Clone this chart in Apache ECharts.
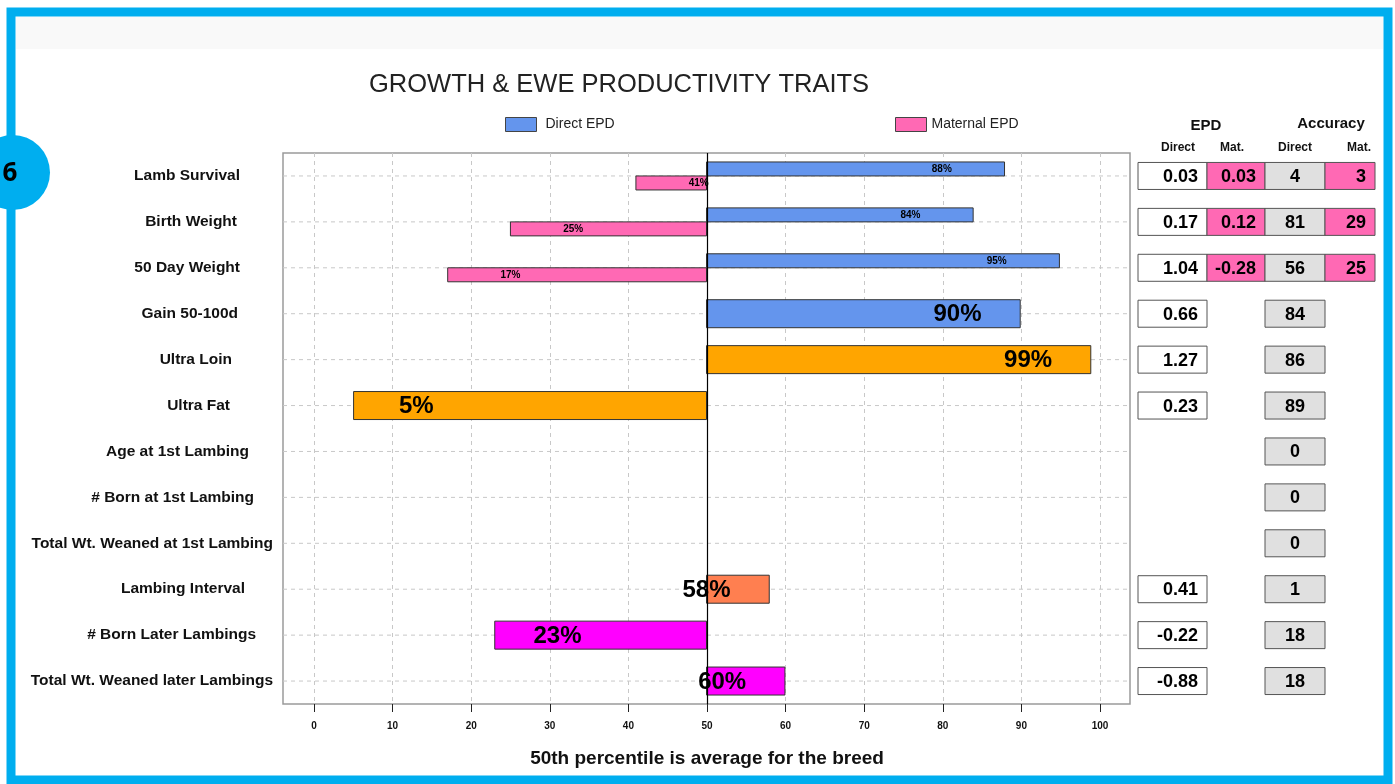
<!DOCTYPE html>
<html><head><meta charset="utf-8">
<script src="https://cdn.jsdelivr.net/npm/echarts@6/dist/echarts.min.js"></script>
<style>html,body{margin:0;padding:0;background:#fff}#c{width:1395px;height:784px}</style>
</head><body><div id="c"></div>
<script>
// ---------------- data ----------------
const traits = ['Lamb Survival','Birth Weight','50 Day Weight','Gain 50-100d','Ultra Loin','Ultra Fat',
  'Age at 1st Lambing','# Born at 1st Lambing','Total Wt. Weaned at 1st Lambing','Lambing Interval',
  '# Born Later Lambings','Total Wt. Weaned later Lambings'];
const directPercentile   = [88, 84, 95, 90, 99, 5, null, null, null, 58, 23, 60];
const maternalPercentile = [41, 25, 17, null, null, null, null, null, null, null, null, null];
const epdDirect   = [0.03, 0.17, 1.04, 0.66, 1.27, 0.23, null, null, null, 0.41, -0.22, -0.88];
const epdMaternal = [0.03, 0.12, -0.28, null, null, null, null, null, null, null, null, null];
const accDirect   = [4, 81, 56, 84, 86, 89, 0, 0, 0, 1, 18, 18];
const accMaternal = [3, 29, 25, null, null, null, null, null, null, null, null, null];
const percentileMin = 0, percentileMax = 100, percentileStep = 10;

// ---------------- styles ----------------
const FONT = 'Liberation Sans';
const BLUE = '#6495ED', PINK = '#FF69B4', ORANGE = '#FFA500', CORAL = '#FF7F50', MAGENTA = '#FF00FF';
const rowFill = [BLUE, BLUE, BLUE, BLUE, ORANGE, ORANGE, null, null, null, CORAL, MAGENTA, MAGENTA];
const labelShift = 8; // label sits this many percentile units inside the bar end
const colEdges = [0, 69, 127, 187, 237];
const colFill = ['#FFFFFF', PINK, '#E0E0E0', PINK];
const colAlign = ['right', 'right', 'center', 'right'];
const Y_FS = 15.5;

// y-axis label placement (mimic original anchor)
const ctx = document.createElement('canvas').getContext('2d');
ctx.font = 'bold ' + Y_FS + 'px "' + FONT + '"';
const yRich = {};
traits.forEach((t, i) => {
  const w = ctx.measureText(t).width;
  const pad = Math.max(0, Math.round(59 - 0.24 * w));
  yRich['t' + i] = {fontSize: Y_FS, fontWeight: 'bold', fontFamily: FONT, color: '#111', padding: [0, pad, 0, 0]};
});

function barRender(kind) {
  return function (params, api) {
    const v = api.value(0), row = api.value(1);
    const hasMat = maternalPercentile[row] != null;
    const p50 = api.coord([50, row]);
    const pv = api.coord([v, row]);
    let h, y0, fs;
    if (kind === 'direct') {
      if (hasMat) { h = 14; y0 = p50[1] - 14; fs = 10; }
      else { h = 28; y0 = p50[1] - 14; fs = 24; }
    } else { h = 14; y0 = p50[1]; fs = 10; }
    const x0 = Math.min(p50[0], pv[0]);
    const w = Math.abs(pv[0] - p50[0]);
    const lx = api.coord([v > 50 ? v - labelShift : v + labelShift, row])[0];
    const fill = kind === 'direct' ? rowFill[row] : PINK;
    return {
      type: 'group',
      children: [
        {type: 'rect', shape: {x: x0, y: y0, width: w, height: h},
          style: {fill: fill, stroke: '#333', lineWidth: 1}},
        {type: 'text', z2: 10, style: {text: v + '%', x: lx, y: y0 + h / 2 + (fs > 12 ? 1 : 0),
          align: 'center', verticalAlign: 'middle', textAlign: 'center', textVerticalAlign: 'middle',
          font: 'bold ' + fs + 'px "' + FONT + '"', fill: '#000'}}
      ]
    };
  };
}

function tableSeries(col, values, fmt) {
  const data = [];
  values.forEach((v, i) => { if (v != null) data.push([col, i, v]); });
  return {
    type: 'custom', xAxisIndex: 2, yAxisIndex: 2, silent: true, clip: false,
    encode: {x: 0, y: 1},
    data: data,
    renderItem: function (params, api) {
      const c = api.value(0), row = api.value(1), val = api.value(2);
      const a = api.coord([colEdges[c], row]);
      const b = api.coord([colEdges[c + 1], row]);
      const cy = a[1];
      let tx, al = colAlign[c];
      if (al === 'center') tx = (a[0] + b[0]) / 2; else tx = b[0] - 9;
      return {
        type: 'group',
        children: [
          {type: 'rect', shape: {x: a[0], y: cy - 13.5, width: b[0] - a[0], height: 27},
            style: {fill: colFill[c], stroke: '#555', lineWidth: 1}},
          {type: 'text', style: {text: fmt(val), x: tx, y: cy + 1, align: al, textAlign: al,
            verticalAlign: 'middle', textVerticalAlign: 'middle',
            font: 'bold 18px "' + FONT + '"', fill: '#000'}}
        ]
      };
    }
  };
}
const fmtEpd = v => Number(v).toFixed(2);
const fmtAcc = v => String(v);

const GTOP = 153, GBOTTOM = 80;
const chart = echarts.init(document.getElementById('c'), null, {renderer: 'canvas'});
chart.setOption({
  animation: false,
  backgroundColor: '#fff',
  title: {
    text: 'GROWTH & EWE PRODUCTIVITY TRAITS', left: 369, top: 72, padding: 0,
    textStyle: {fontFamily: FONT, fontSize: 25.5, fontWeight: 'normal', color: '#222'}
  },
  legend: [
    {data: ['Direct EPD'], left: 505, top: 117, padding: 0, icon: 'rect', itemWidth: 31, itemHeight: 14,
      selectedMode: false, itemStyle: {borderColor: '#444', borderWidth: 1},
      textStyle: {fontFamily: FONT, fontSize: 14, color: '#222', padding: [0, 0, 0, 4]}},
    {data: ['Maternal EPD'], left: 895, top: 117, padding: 0, icon: 'rect', itemWidth: 31, itemHeight: 14,
      selectedMode: false, itemStyle: {borderColor: '#444', borderWidth: 1},
      textStyle: {fontFamily: FONT, fontSize: 14, color: '#222'}}
  ],
  grid: [
    {left: 283, right: 1395 - 1130, top: GTOP, bottom: GBOTTOM, show: true, borderColor: '#9a9a9a', borderWidth: 1.5},
    {left: 314, right: 1395 - 1100, top: GTOP, bottom: GBOTTOM},
    {left: 1138, right: 1395 - 1375, top: GTOP, bottom: GBOTTOM}
  ],
  xAxis: [
    {gridIndex: 0, type: 'value', min: percentileMin - 4, max: percentileMax + 4, show: false},
    {gridIndex: 1, type: 'value', min: percentileMin, max: percentileMax, interval: percentileStep,
      axisLine: {show: false},
      axisTick: {show: true, length: 8, lineStyle: {color: '#222', width: 1}},
      axisLabel: {margin: 17, fontFamily: FONT, fontSize: 10, fontWeight: 'bold', color: '#111'},
      splitLine: {show: true, lineStyle: {color: '#c8c8c8', type: [4, 4], width: 1}},
      name: '50th percentile is average for the breed', nameLocation: 'middle', nameGap: 45,
      nameTextStyle: {fontFamily: FONT, fontSize: 19, fontWeight: 'bold', color: '#111'}},
    {gridIndex: 2, type: 'value', min: 0, max: 237, show: false}
  ],
  yAxis: [
    {gridIndex: 0, type: 'category', data: traits, inverse: true,
      axisLine: {show: false}, axisTick: {show: false}, splitLine: {show: false},
      axisLabel: {align: 'right', margin: 9, formatter: (v, i) => '{t' + i + '|' + v + '}', rich: yRich}},
    {gridIndex: 1, type: 'category', data: traits, inverse: true, show: false},
    {gridIndex: 2, type: 'category', data: traits, inverse: true, show: false}
  ],
  graphic: [
    {type: 'rect', z: -10, shape: {x: 16, y: 17, width: 1367, height: 32}, style: {fill: '#f9f9f9'}},
    {type: 'rect', z: 100, shape: {x: 11, y: 12, width: 1377, height: 768}, style: {fill: 'transparent', stroke: '#00AEEF', lineWidth: 9}},
    {type: 'circle', z: 101, shape: {cx: 12.5, cy: 172.5, r: 37.5}, style: {fill: '#00AEEF'}},
    {type: 'text', z: 102, style: {text: '6', x: 10, y: 174, textAlign: 'center', textVerticalAlign: 'middle',
      font: 'bold 26px "Open Sans"', fill: '#000'}},
    {type: 'text', style: {text: 'EPD', x: 1206, y: 126, textAlign: 'center', textVerticalAlign: 'middle', font: 'bold 15px "' + FONT + '"', fill: '#111'}},
    {type: 'text', style: {text: 'Accuracy', x: 1331, y: 124, textAlign: 'center', textVerticalAlign: 'middle', font: 'bold 15px "' + FONT + '"', fill: '#111'}},
    {type: 'text', style: {text: 'Direct', x: 1178, y: 148, textAlign: 'center', textVerticalAlign: 'middle', font: 'bold 12px "' + FONT + '"', fill: '#111'}},
    {type: 'text', style: {text: 'Mat.', x: 1232, y: 148, textAlign: 'center', textVerticalAlign: 'middle', font: 'bold 12px "' + FONT + '"', fill: '#111'}},
    {type: 'text', style: {text: 'Direct', x: 1295, y: 148, textAlign: 'center', textVerticalAlign: 'middle', font: 'bold 12px "' + FONT + '"', fill: '#111'}},
    {type: 'text', style: {text: 'Mat.', x: 1359, y: 148, textAlign: 'center', textVerticalAlign: 'middle', font: 'bold 12px "' + FONT + '"', fill: '#111'}}
  ],
  series: [
    // horizontal dashed guide lines at each trait
    {type: 'custom', name: 'guides', xAxisIndex: 0, yAxisIndex: 0, silent: true, z: 1,
      data: traits.map((t, i) => [50, i]), encode: {x: 0, y: 1},
      renderItem: function (params, api) {
        const cs = params.coordSys; const y = api.coord([50, api.value(1)])[1];
        return {type: 'line', shape: {x1: cs.x, y1: y, x2: cs.x + cs.width, y2: y},
          style: {stroke: '#c8c8c8', lineWidth: 1, lineDash: [4, 4]}};
      }},
    {type: 'custom', name: 'Direct EPD', xAxisIndex: 0, yAxisIndex: 0, z: 3, clip: false,
      itemStyle: {color: BLUE, borderColor: '#444', borderWidth: 1},
      encode: {x: 0, y: 1},
      data: directPercentile.map((v, i) => v == null ? null : [v, i]).filter(d => d),
      renderItem: barRender('direct')},
    {type: 'custom', name: 'Maternal EPD', xAxisIndex: 0, yAxisIndex: 0, z: 3, clip: false,
      itemStyle: {color: PINK, borderColor: '#444', borderWidth: 1},
      encode: {x: 0, y: 1},
      data: maternalPercentile.map((v, i) => v == null ? null : [v, i]).filter(d => d),
      renderItem: barRender('maternal')},
    // breed average line at the 50th percentile
    {type: 'custom', name: 'average', xAxisIndex: 0, yAxisIndex: 0, silent: true, z: 4, clip: false,
      data: [[50, 0]], encode: {x: 0, y: 1},
      renderItem: function (params, api) {
        const cs = params.coordSys; const x = Math.round(api.coord([api.value(0), 0])[0]) + 0.5;
        return {type: 'line', shape: {x1: x, y1: cs.y, x2: x, y2: cs.y + cs.height},
          style: {stroke: '#000', lineWidth: 1.2}};
      }},
    tableSeries(0, epdDirect, fmtEpd),
    tableSeries(1, epdMaternal, fmtEpd),
    tableSeries(2, accDirect, fmtAcc),
    tableSeries(3, accMaternal, fmtAcc)
  ]
});
</script></body></html>
